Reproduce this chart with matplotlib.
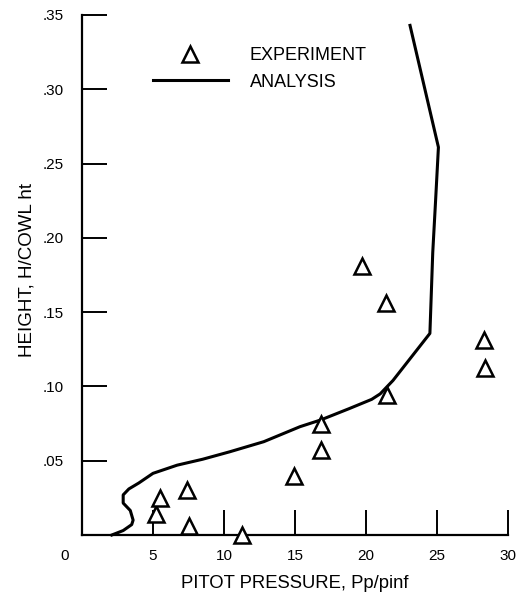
import matplotlib
matplotlib.use("Agg")
import matplotlib.pyplot as plt
import matplotlib.transforms as mtransforms
from matplotlib.lines import Line2D

plt.rcParams['font.family'] = ['Liberation Sans', 'DejaVu Sans']

# Experiment data (Pp/pinf, H/cowl ht)
exp_x = [5.2, 5.5, 7.4, 7.5, 11.3, 14.9, 16.8, 16.8, 21.5, 19.7, 21.4, 28.3, 28.4]
exp_y = [0.014, 0.025, 0.030, 0.006, 0.0, 0.040, 0.057, 0.075, 0.094, 0.181, 0.156, 0.131, 0.1126]

# Analysis curve
ana_x = [2.1, 2.9, 3.5, 3.6, 3.4, 2.9, 2.9, 3.3, 4.0, 5.0, 6.7, 8.5, 10.4, 12.8,
         15.35, 16.8, 18.8, 20.4, 21.0, 21.9, 24.5, 24.7, 24.9, 25.1, 23.1]
ana_y = [0.0, 0.003, 0.007, 0.010, 0.0165, 0.0215, 0.027, 0.031, 0.035, 0.0415,
         0.047, 0.051, 0.056, 0.0628, 0.0729, 0.0774, 0.085, 0.0913, 0.095, 0.104,
         0.1357, 0.19, 0.225, 0.261, 0.343]

x_ticks = [0, 5, 10, 15, 20, 25, 30]
x_labels = ['0', '5', '10', '15', '20', '25', '30']
y_ticks = [0.05, 0.10, 0.15, 0.20, 0.25, 0.30, 0.35]
y_labels = ['.05', '.10', '.15', '.20', '.25', '.30', '.35']

fig = plt.figure(figsize=(5.26, 5.92), dpi=100)
ax = fig.add_axes([82/526, 57/592, (508-82)/526, (535-15)/592])

ax.plot(ana_x, ana_y, color='black', lw=2.2, clip_on=False, solid_joinstyle='round')
ax.plot(exp_x, exp_y, linestyle='none', marker='^', markersize=11,
        markerfacecolor='white', markeredgecolor='black', markeredgewidth=1.8,
        clip_on=False, zorder=3)

ax.set_xlim(0, 30)
ax.set_ylim(0, 0.35)
for s in ['top', 'right']:
    ax.spines[s].set_visible(False)
for s in ['left', 'bottom']:
    ax.spines[s].set_linewidth(1.6)

ax.set_xticks(x_ticks)
ax.set_xticklabels(x_labels)
ax.set_yticks(y_ticks)
ax.set_yticklabels(y_labels)
ax.tick_params(axis='both', direction='in', length=18, width=1.4, labelsize=11)
ax.tick_params(axis='y', pad=13)
ax.tick_params(axis='x', pad=10)

# shift the "0" label left as in the reference
lbl0 = ax.get_xticklabels()[0]
lbl0.set_transform(lbl0.get_transform() + mtransforms.ScaledTranslation(-17/100, 0, fig.dpi_scale_trans))
ax.xaxis.get_major_ticks()[0].tick1line.set_visible(False)

ax.set_xlabel('PITOT PRESSURE, Pp/pinf', fontsize=13.3)
ax.set_ylabel('HEIGHT, H/COWL ht', fontsize=13.5)
ax.xaxis.set_label_coords(0.5, -0.076)
ax.yaxis.set_label_coords(-0.11, 0.51)

handles = [Line2D([], [], linestyle='none', marker='^', markersize=11,
                  markerfacecolor='white', markeredgecolor='black', markeredgewidth=1.8),
           Line2D([], [], color='black', lw=2.2)]
ax.legend(handles, ['EXPERIMENT', 'ANALYSIS'], frameon=False, loc='upper left',
          bbox_to_anchor=(0.1667, 0.938), handlelength=4.15, handletextpad=1.2,
          labelspacing=0.52, fontsize=13, borderpad=0, borderaxespad=0)

fig.savefig('out.png', dpi=100)
